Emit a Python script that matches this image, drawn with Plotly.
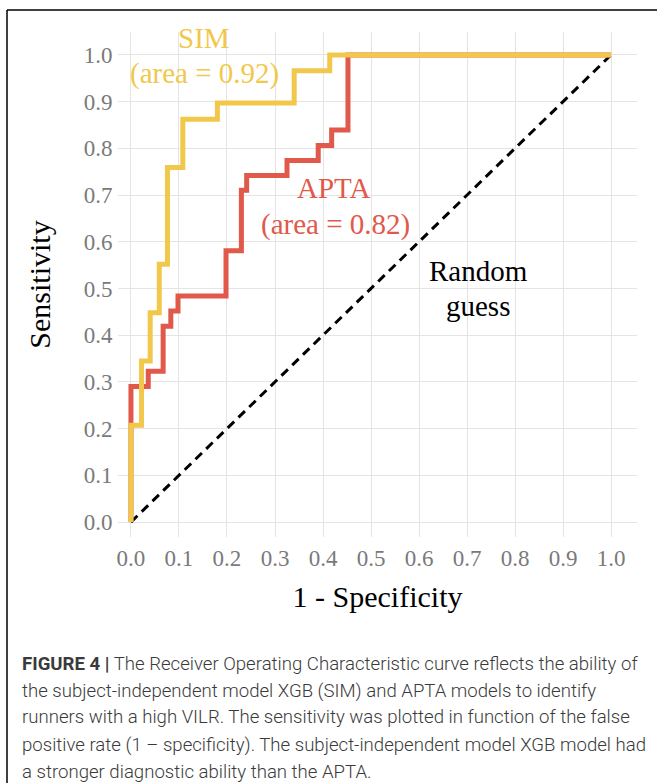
import plotly.graph_objects as go

# ROC data (corner points, step shape 'hv')
sim_fpr = [0.0, 0.0, 0.022, 0.040, 0.059, 0.076, 0.108, 0.180, 0.340, 0.414, 1.0]
sim_tpr = [0.0, 0.207, 0.345, 0.448, 0.552, 0.759, 0.862, 0.897, 0.966, 1.0, 1.0]

apta_fpr = [0.0, 0.0, 0.036, 0.067, 0.083, 0.098, 0.198, 0.230, 0.241, 0.325, 0.390, 0.418, 0.452, 1.0]
apta_tpr = [0.0, 0.290, 0.323, 0.419, 0.452, 0.484, 0.581, 0.710, 0.742, 0.774, 0.806, 0.839, 1.0, 1.0]

diag = [0.0, 1.0]
ticks = [0.0, 0.1, 0.2, 0.3, 0.4, 0.5, 0.6, 0.7, 0.8, 0.9, 1.0]
tick_labels = [f"{t:.1f}" for t in ticks]

caption_lines = [
    "<b>FIGURE 4 |</b> The Receiver Operating Characteristic curve reflects the ability of",
    "the subject-independent model XGB (SIM) and APTA models to identify",
    "runners with a high VILR. The sensitivity was plotted in function of the false",
    "positive rate (1 – specificity). The subject-independent model XGB model had",
    "a stronger diagnostic ability than the APTA.",
]

YELLOW = "#F1C84B"
RED = "#E0594A"
SERIF = "Liberation Serif, Times New Roman, serif"

W, H = 657, 783
L, R, T, B = 118, 20, 32, 246
pw, ph = W - L - R, H - T - B


def px(xp):
    return (xp - L) / pw


def py(yp):
    return (H - B - yp) / ph


fig = go.Figure()
fig.add_trace(go.Scatter(x=diag, y=diag, mode="lines",
                         line=dict(color="black", width=3, dash="9px,6px"),
                         hoverinfo="skip", showlegend=False))
fig.add_trace(go.Scatter(x=apta_fpr, y=apta_tpr, mode="lines", line_shape="hv",
                         line=dict(color=RED, width=5), showlegend=False, name="APTA"))
fig.add_trace(go.Scatter(x=sim_fpr, y=sim_tpr, mode="lines", line_shape="hv",
                         line=dict(color=YELLOW, width=5), showlegend=False, name="SIM"))

axis_common = dict(
    showgrid=True, gridcolor="#E4E4E4", gridwidth=1,
    zeroline=False, showline=False,
    tickvals=ticks, ticktext=tick_labels,
    tickfont=dict(family=SERIF, size=23, color="#7A7A7A"),
    ticks="outside", ticklen=0,
)
fig.update_xaxes(range=[-0.027, 1.054], title=dict(text="1 - Specificity",
                 font=dict(family=SERIF, size=30, color="black"), standoff=16),
                 **axis_common)
fig.update_yaxes(range=[-0.032, 1.049], title=dict(text="Sensitivity",
                 font=dict(family=SERIF, size=30, color="black"), standoff=24),
                 **axis_common)

labels = [
    ("SIM", 0.152, 1.036, YELLOW),
    ("(area = 0.92)", 0.154, 0.961, YELLOW),
    ("APTA", 0.421, 0.715, RED),
    ("(area = 0.82)", 0.425, 0.638, RED),
    ("Random", 0.723, 0.537, "black"),
    ("guess", 0.723, 0.4625, "black"),
]
for txt, x, y, c in labels:
    fig.add_annotation(x=x, y=y, xref="x", yref="y", text=txt, showarrow=False,
                       font=dict(family=SERIF, size=29, color=c),
                       xanchor="center", yanchor="middle")

cap_y = [663.5, 690.5, 717.5, 744.5, 771.5]
for line, yc in zip(caption_lines, cap_y):
    fig.add_annotation(x=px(20), y=py(yc), xref="paper", yref="paper", text=line,
                       showarrow=False, xanchor="left", yanchor="middle", align="left",
                       font=dict(family="Roboto, Liberation Sans, Arial, sans-serif",
                                 size=18.6, color="#3A3A3A", weight=300))

# frame
fig.add_shape(type="line", xref="paper", yref="paper", x0=px(7), x1=px(660),
              y0=py(10), y1=py(10), line=dict(color="black", width=1.5))
fig.add_shape(type="line", xref="paper", yref="paper", x0=px(7), x1=px(7),
              y0=py(10), y1=py(790), line=dict(color="black", width=1.5))

fig.update_layout(width=W, height=H, margin=dict(l=L, r=R, t=T, b=B, autoexpand=False),
                  plot_bgcolor="white", paper_bgcolor="white", showlegend=False)

fig.write_html("out.html", config={"displayModeBar": False},
               post_script="document.body.style.margin='0';document.body.style.overflow='hidden';")
